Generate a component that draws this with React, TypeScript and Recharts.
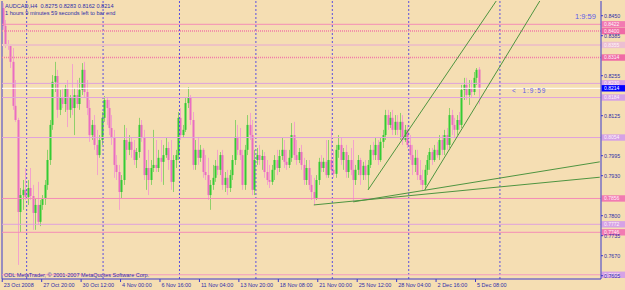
import { ComposedChart, Bar, XAxis, YAxis, ReferenceLine } from 'recharts';

// AUDCAD H4, one entry per bar (23 Oct 2008 .. 5 Dec 2008)
const opens = [
  0.8475, 0.8417, 0.8358, 0.8352, 0.8300, 0.8157, 0.8111, 0.7812, 0.7867, 0.7884,
  0.7861, 0.7890, 0.7864, 0.7809, 0.7835, 0.7780, 0.7835, 0.7854, 0.7900, 0.7981,
  0.8095, 0.8235, 0.8254, 0.8144, 0.8183, 0.8163, 0.8215, 0.8144, 0.8183, 0.8150,
  0.8192, 0.8163, 0.8209, 0.8274, 0.8202, 0.8150, 0.8062, 0.8095, 0.8030, 0.7997,
  0.8046, 0.8118, 0.8176, 0.8150, 0.8085, 0.8053, 0.7965, 0.7942, 0.7877, 0.7916,
  0.8046, 0.8014, 0.8040, 0.8014, 0.7981, 0.8007, 0.8095, 0.8053, 0.7932, 0.7955,
  0.7916, 0.7955, 0.7965, 0.7955, 0.7988, 0.7975, 0.7997, 0.8020, 0.7981, 0.7910,
  0.7981, 0.7997, 0.8118, 0.8062, 0.8079, 0.8166, 0.8183, 0.8111, 0.7965, 0.8014,
  0.7988, 0.8014, 0.7942, 0.7932, 0.7867, 0.7900, 0.7923, 0.7962, 0.7949, 0.7997,
  0.7900, 0.7923, 0.7890, 0.7932, 0.7981, 0.8056, 0.8014, 0.7997, 0.7900, 0.8014,
  0.8095, 0.8062, 0.7884, 0.7981, 0.7997, 0.7981, 0.7994, 0.7942, 0.7916, 0.7910,
  0.7949, 0.7981, 0.7955, 0.7994, 0.8014, 0.7975, 0.7965, 0.7988, 0.8062, 0.7997,
  0.7981, 0.8007, 0.7965, 0.7916, 0.7955, 0.7900, 0.7877, 0.7857, 0.7916, 0.7975,
  0.7955, 0.7975, 0.7932, 0.7981, 0.7949, 0.7936, 0.8014, 0.8030, 0.7981, 0.8007,
  0.7942, 0.7981, 0.7949, 0.7916, 0.7949, 0.7981, 0.7932, 0.7962, 0.7932, 0.7965,
  0.8014, 0.7997, 0.8030, 0.7981, 0.8040, 0.8062, 0.8127, 0.8095, 0.8118, 0.8079,
  0.8105, 0.8079, 0.8105, 0.8046, 0.8079, 0.8030, 0.7997, 0.7965, 0.7988, 0.7932,
  0.7916, 0.7900, 0.7949, 0.7981, 0.8007, 0.7981, 0.8014, 0.7997, 0.8046, 0.8014,
  0.8062, 0.8030, 0.8127, 0.8095, 0.8079, 0.8111, 0.8095, 0.8209, 0.8225, 0.8192,
  0.8215, 0.8202, 0.8248, 0.8275,
];
const highs = [
  0.8491, 0.8436, 0.8371, 0.8355, 0.8345, 0.8241, 0.8118, 0.7890, 0.7916, 0.7955,
  0.7916, 0.7955, 0.7900, 0.7857, 0.7910, 0.7851, 0.7867, 0.7916, 0.8014, 0.8111,
  0.8257, 0.8300, 0.8274, 0.8209, 0.8215, 0.8225, 0.8241, 0.8192, 0.8293, 0.8215,
  0.8241, 0.8248, 0.8296, 0.8300, 0.8241, 0.8176, 0.8111, 0.8127, 0.8079, 0.8062,
  0.8137, 0.8189, 0.8183, 0.8176, 0.8127, 0.8079, 0.7997, 0.7965, 0.7932, 0.8095,
  0.8085, 0.8062, 0.8053, 0.8046, 0.8020, 0.8118, 0.8111, 0.8079, 0.7981, 0.8014,
  0.7981, 0.8079, 0.8046, 0.8014, 0.8046, 0.8030, 0.8053, 0.8040, 0.8046, 0.7997,
  0.8014, 0.8137, 0.8150, 0.8095, 0.8183, 0.8218, 0.8192, 0.8137, 0.8046, 0.8056,
  0.8030, 0.8020, 0.7997, 0.7988, 0.7916, 0.7965, 0.7981, 0.8014, 0.8007, 0.8014,
  0.7942, 0.7949, 0.7949, 0.7997, 0.8111, 0.8095, 0.8085, 0.8014, 0.8030, 0.8127,
  0.8134, 0.8111, 0.8014, 0.8020, 0.8030, 0.8014, 0.8007, 0.7981, 0.7965, 0.7965,
  0.7997, 0.8014, 0.8014, 0.8053, 0.8046, 0.8014, 0.8014, 0.8101, 0.8105, 0.8046,
  0.8020, 0.8030, 0.7988, 0.7981, 0.7981, 0.7932, 0.7923, 0.7932, 0.7988, 0.7997,
  0.7988, 0.8046, 0.8046, 0.8085, 0.8014, 0.8030, 0.8062, 0.8053, 0.8020, 0.8030,
  0.7997, 0.8020, 0.8046, 0.7965, 0.7997, 0.7988, 0.7975, 0.7981, 0.7981, 0.8030,
  0.8040, 0.8053, 0.8046, 0.8053, 0.8079, 0.8144, 0.8144, 0.8137, 0.8144, 0.8127,
  0.8127, 0.8134, 0.8127, 0.8095, 0.8095, 0.8062, 0.8030, 0.8014, 0.8014, 0.7981,
  0.7949, 0.7965, 0.7997, 0.8020, 0.8020, 0.8030, 0.8040, 0.8062, 0.8062, 0.8079,
  0.8085, 0.8150, 0.8144, 0.8118, 0.8127, 0.8137, 0.8225, 0.8248, 0.8248, 0.8241,
  0.8241, 0.8267, 0.8280, 0.8283,
];
const lows = [
  0.8404, 0.8345, 0.8339, 0.8280, 0.8144, 0.8105, 0.7640, 0.7747, 0.7819, 0.7851,
  0.7835, 0.7851, 0.7754, 0.7754, 0.7770, 0.7766, 0.7819, 0.7835, 0.7884, 0.7965,
  0.8079, 0.8202, 0.8118, 0.8127, 0.8150, 0.8137, 0.8088, 0.8118, 0.8127, 0.8062,
  0.8150, 0.8144, 0.8192, 0.8183, 0.8127, 0.8040, 0.8046, 0.8014, 0.7932, 0.7988,
  0.8030, 0.8105, 0.8095, 0.8062, 0.8030, 0.7923, 0.7916, 0.7819, 0.7857, 0.7900,
  0.7981, 0.7997, 0.7988, 0.7965, 0.7955, 0.7988, 0.8040, 0.7916, 0.7884, 0.7867,
  0.7900, 0.7942, 0.7942, 0.7942, 0.7910, 0.7900, 0.7988, 0.7949, 0.7884, 0.7877,
  0.7955, 0.7981, 0.8046, 0.8053, 0.8072, 0.8150, 0.8095, 0.7949, 0.7949, 0.7965,
  0.7975, 0.7923, 0.7916, 0.7851, 0.7819, 0.7884, 0.7910, 0.7932, 0.7932, 0.7884,
  0.7877, 0.7867, 0.7877, 0.7916, 0.7965, 0.7997, 0.7981, 0.7884, 0.7884, 0.7997,
  0.8046, 0.7867, 0.7867, 0.7965, 0.7965, 0.7949, 0.7923, 0.7900, 0.7890, 0.7900,
  0.7916, 0.7932, 0.7942, 0.7981, 0.7955, 0.7949, 0.7955, 0.7975, 0.7981, 0.7965,
  0.7971, 0.7949, 0.7900, 0.7900, 0.7884, 0.7851, 0.7835, 0.7851, 0.7900, 0.7942,
  0.7942, 0.7923, 0.7923, 0.7932, 0.7923, 0.7923, 0.7988, 0.7965, 0.7949, 0.7923,
  0.7923, 0.7932, 0.7845, 0.7900, 0.7932, 0.7900, 0.7916, 0.7916, 0.7884, 0.7955,
  0.7981, 0.7981, 0.7965, 0.7975, 0.8020, 0.8046, 0.8079, 0.8085, 0.8062, 0.8062,
  0.8062, 0.8046, 0.8030, 0.8040, 0.8020, 0.7981, 0.7932, 0.7942, 0.7916, 0.7900,
  0.7884, 0.7884, 0.7932, 0.7949, 0.7965, 0.7975, 0.7988, 0.7981, 0.7997, 0.7997,
  0.8014, 0.8020, 0.8062, 0.8053, 0.8062, 0.8079, 0.8085, 0.8176, 0.8176, 0.8160,
  0.8183, 0.8192, 0.8225, 0.8162,
];
const closes = [
  0.8417, 0.8358, 0.8352, 0.8300, 0.8157, 0.8111, 0.7812, 0.7867, 0.7884, 0.7861,
  0.7890, 0.7864, 0.7809, 0.7835, 0.7780, 0.7835, 0.7854, 0.7900, 0.7981, 0.8095,
  0.8235, 0.8254, 0.8144, 0.8183, 0.8163, 0.8215, 0.8144, 0.8183, 0.8150, 0.8192,
  0.8163, 0.8209, 0.8274, 0.8202, 0.8150, 0.8062, 0.8095, 0.8030, 0.7997, 0.8046,
  0.8118, 0.8176, 0.8150, 0.8085, 0.8053, 0.7965, 0.7942, 0.7877, 0.7916, 0.8046,
  0.8014, 0.8040, 0.8014, 0.7981, 0.8007, 0.8095, 0.8053, 0.7932, 0.7955, 0.7916,
  0.7955, 0.7965, 0.7955, 0.7988, 0.7975, 0.7997, 0.8020, 0.7981, 0.7910, 0.7981,
  0.7997, 0.8118, 0.8062, 0.8079, 0.8166, 0.8183, 0.8111, 0.7965, 0.8014, 0.7988,
  0.8014, 0.7942, 0.7932, 0.7867, 0.7900, 0.7923, 0.7962, 0.7949, 0.7997, 0.7900,
  0.7923, 0.7890, 0.7932, 0.7981, 0.8056, 0.8014, 0.7997, 0.7900, 0.8014, 0.8095,
  0.8062, 0.7884, 0.7981, 0.7997, 0.7981, 0.7994, 0.7942, 0.7916, 0.7910, 0.7949,
  0.7981, 0.7955, 0.7994, 0.8014, 0.7975, 0.7965, 0.7988, 0.8062, 0.7997, 0.7981,
  0.8007, 0.7965, 0.7916, 0.7955, 0.7900, 0.7877, 0.7857, 0.7916, 0.7975, 0.7955,
  0.7975, 0.7932, 0.7981, 0.7949, 0.7936, 0.8014, 0.8030, 0.7981, 0.8007, 0.7942,
  0.7981, 0.7949, 0.7916, 0.7949, 0.7981, 0.7932, 0.7962, 0.7932, 0.7965, 0.8014,
  0.7997, 0.8030, 0.7981, 0.8040, 0.8062, 0.8127, 0.8095, 0.8118, 0.8079, 0.8105,
  0.8079, 0.8105, 0.8046, 0.8079, 0.8030, 0.7997, 0.7965, 0.7988, 0.7932, 0.7916,
  0.7900, 0.7949, 0.7981, 0.8007, 0.7981, 0.8014, 0.7997, 0.8046, 0.8014, 0.8062,
  0.8030, 0.8127, 0.8095, 0.8079, 0.8111, 0.8095, 0.8209, 0.8225, 0.8192, 0.8215,
  0.8202, 0.8248, 0.8274, 0.8214,
];

const emptyBars = 49; // chart shift to the right
const timeTickBars = [0, 16, 32, 48, 64, 80, 96, 112, 128, 144, 160, 176, 192];
const timeLabels = [
  '23 Oct 2008', '27 Oct 20:00', '30 Oct 12:00', '4 Nov 00:00', '6 Nov 16:00',
  '11 Nov 04:00', '13 Nov 20:00', '18 Nov 08:00', '21 Nov 00:00', '25 Nov 12:00',
  '28 Nov 04:00', '2 Dec 16:00', '5 Dec 08:00',
];
const priceTicks = [0.845, 0.8385, 0.8255, 0.8125, 0.7995, 0.793, 0.78, 0.7735, 0.767, 0.7605];
const separatorBars = [10, 41, 72, 103, 134, 165, 202];

const levelPrices = [0.8422, 0.8400, 0.8355, 0.8314, 0.823, 0.8184, 0.8054, 0.7856, 0.7772, 0.7746, 0.7608];
const levelKinds = ['pink', 'dotted', 'pale', 'dotted', 'lilac', 'lilac', 'lilac', 'pink', 'lilac', 'pink', 'bottom'];
const lastPrice = 0.8214;

// [bar, price, bar, price]
const trendLines = [
  [148, 0.7884, 210, 0.8616],
  [171, 0.7884, 230, 0.866],
  [142, 0.7845, 242, 0.7975],
  [126, 0.7835, 242, 0.7925],
];

const data = Array.from({ length: closes.length + emptyBars }, (_, i) =>
  i < closes.length ? { i, o: opens[i], h: highs[i], l: lows[i], c: closes[i] } : { i }
);

const FONT = 'Liberation Sans, Arial, sans-serif';
const BLUE = '#3a3acc';
const TEXT = '#2e2eaa';

const LEVEL_STYLE: Record<string, any> = {
  pink: { stroke: '#f48cb6', width: 1, box: '#f27ab2' },
  dotted: { stroke: '#f27aa8', width: 1.5, dash: '1 1', box: '#f06aa6' },
  pale: { stroke: '#eec3c3', width: 2, box: '#ecbfd2' },
  lilac: { stroke: '#dfa2dc', width: 1, box: '#d6a2e6' },
  bottom: { stroke: '#f29ac0', width: 1, box: '#d6a2e6' },
};

function Candle(props: any) {
  const { x, y, width, height, payload } = props;
  if (!payload || payload.o == null) return null;
  const { o, h, l, c } = payload;
  const top = Math.min(y, y + height);
  const span = Math.abs(height);
  const py = (p: number) => (h === l ? top : top + ((h - p) / (h - l)) * span);
  const cx = Math.round(x + width / 2);
  const up = c >= o;
  const bTop = py(Math.max(o, c));
  const bBot = py(Math.min(o, c));
  return (
    <g>
      <line x1={cx + 0.5} x2={cx + 0.5} y1={top} y2={top + span} stroke={up ? '#8fd06a' : '#f3a2cc'} strokeWidth={1} />
      <rect x={cx - 0.5} y={bTop} width={2} height={Math.max(1, bBot - bTop)} fill={up ? '#33cc33' : '#ea6cc2'} />
    </g>
  );
}

function PriceTag({ viewBox, text, bg, fg }: any) {
  if (!viewBox) return null;
  const right = viewBox.x + viewBox.width;
  return (
    <g>
      <rect x={right + 0.5} y={viewBox.y - 3.2} width={24} height={6.4} fill={bg} />
      <text x={right + 3} y={viewBox.y + 1.8} fontSize={5} fill={fg} fontFamily={FONT}>{text}</text>
    </g>
  );
}

function TimeTick({ x, y, payload }: any) {
  const k = timeTickBars.indexOf(payload.value);
  return (
    <g>
      <line x1={x - 1} x2={x - 1} y1={y} y2={y + 3} stroke={BLUE} />
      <text x={x + 0.5} y={y + 7.5} fontSize={5.5} fill={TEXT} fontFamily={FONT}>{timeLabels[k]}</text>
    </g>
  );
}

function PriceTick({ x, y, payload }: any) {
  return (
    <g>
      <line x1={x} x2={x + 2} y1={y} y2={y} stroke={BLUE} />
      <text x={x + 3} y={y + 2} fontSize={5.3} fill={TEXT} fontFamily={FONT}>{payload.value.toFixed(4)}</text>
    </g>
  );
}

export default function App() {
  return (
    <div style={{ position: 'fixed', left: 0, top: 0, width: 625, height: 290, background: '#F5DEB3' }}>
      <ComposedChart width={625} height={290} data={data} barCategoryGap={0} margin={{ top: 1, right: 0, bottom: 0, left: 2 }}>
        <XAxis
          dataKey="i"
          type="category"
          height={11}
          ticks={timeTickBars}
          interval={0}
          tickLine={false}
          tickSize={0}
          tickMargin={0}
          axisLine={{ stroke: BLUE }}
          tick={<TimeTick />}
        />
        <YAxis
          orientation="right"
          width={24}
          type="number"
          domain={[0.759425, 0.849775]}
          allowDataOverflow
          ticks={priceTicks}
          interval={0}
          tickLine={false}
          tickSize={0}
          tickMargin={0}
          axisLine={{ stroke: BLUE }}
          tick={<PriceTick />}
        />
        <ReferenceLine x={0} position="start" stroke={BLUE} />
        {separatorBars.map((b) => (
          <ReferenceLine key={'s' + b} x={b} position="start" stroke="#5a4fe0" strokeDasharray="2 2" />
        ))}
        {levelPrices.map((p, k) => {
          const st = LEVEL_STYLE[levelKinds[k]];
          return (
            <ReferenceLine
              key={'l' + k}
              y={p}
              stroke={st.stroke}
              strokeWidth={st.width}
              strokeDasharray={st.dash}
              label={(lp: any) => <PriceTag viewBox={lp.viewBox} text={p.toFixed(4)} bg={st.box} fg="#fff4fa" />}
            />
          );
        })}
        <ReferenceLine
          y={lastPrice}
          stroke="#ffffff"
          label={(lp: any) => <PriceTag viewBox={lp.viewBox} text={lastPrice.toFixed(4)} bg="#0000ff" fg="#ffffff" />}
        />
        <Bar dataKey={(d: any) => (d.o == null ? null : [d.l, d.h])} shape={<Candle />} isAnimationActive={false} />
        {trendLines.map((t, k) => (
          <ReferenceLine
            key={'t' + k}
            segment={[{ x: t[0], y: t[1] }, { x: t[2], y: t[3] }]}
            stroke="#4e9440"
            ifOverflow="hidden"
          />
        ))}
      </ComposedChart>
      <svg width={625} height={290} style={{ position: 'absolute', left: 0, top: 0, pointerEvents: 'none' }} fontFamily={FONT}>
        <text x={5} y={7.5} fontSize={5.6} fill={TEXT} xmlSpace="preserve">AUDCAD,H4  0.8275 0.8283 0.8162 0.8214</text>
        <text x={5} y={14.5} fontSize={5.6} fill={TEXT}>1 hours 9 minutes 59 seconds left to bar end</text>
        <text x={4} y={276.5} fontSize={5.5} fill={TEXT}>ODL MetaTrader, © 2001-2007 MetaQuotes Software Corp.</text>
        <text x={575} y={18.5} fontSize={7.5} fill="#5c5ce6">1:9:59</text>
        <text x={512} y={93} fontSize={6.5} fill="#5c5ce6" letterSpacing={1} xmlSpace="preserve">{'<  1:9:59'}</text>
      </svg>
    </div>
  );
}
